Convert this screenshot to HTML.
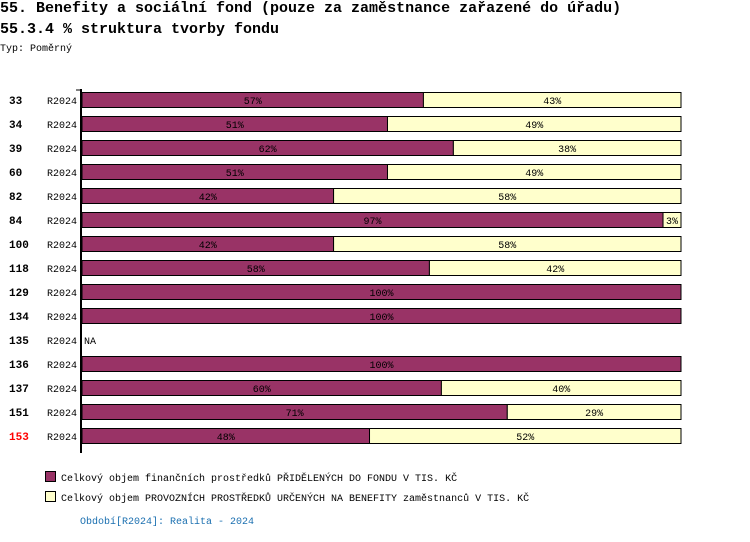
<!DOCTYPE html>
<html><head><meta charset="utf-8"><style>
body{margin:0;width:750px;height:542px;background:#fff;font-family:"Liberation Mono","DejaVu Sans Mono",monospace;position:relative;overflow:hidden}
.t{position:absolute;white-space:nowrap;color:#000}
</style></head><body>
<div class="t" style="left:0;top:0;font-size:15px;font-weight:bold">55. Benefity a sociální fond (pouze za zaměstnance zařazené do úřadu)</div>
<div class="t" style="left:0;top:21px;font-size:15px;font-weight:bold">55.3.4 % struktura tvorby fondu</div>
<div class="t" style="left:0;top:44px;font-size:10px">Typ: Poměrný</div>
<svg id="chart" width="750" height="542" style="position:absolute;left:0;top:0" font-family="Liberation Mono, DejaVu Sans Mono, monospace"></svg>
<script>
const categories=["33","34","39","60","82","84","100","118","129","134","135","136","137","151","153"];
const periods=["R2024","R2024","R2024","R2024","R2024","R2024","R2024","R2024","R2024","R2024","R2024","R2024","R2024","R2024","R2024"];
const allocated=[57,51,62,51,42,97,42,58,100,100,null,100,60,71,48];
const operating=[43,49,38,49,58,3,58,42,0,0,null,0,40,29,52];
const highlighted=["153"];
const NS="http://www.w3.org/2000/svg";
const svg=document.getElementById('chart');
const x0=82,x1=681,y0=100,step=24,bh=15;
const xs=v=>x0+(x1-x0)*v/100;
const ys=i=>y0+i*step;
function mk(t,a){const e=document.createElementNS(NS,t);for(const k in a)e.setAttribute(k,a[k]);svg.appendChild(e);return e;}
categories.forEach((c,i)=>{
  const y=ys(i);
  const lab=mk('text',{x:9,y:y+4,'font-size':11,'font-weight':'bold',fill:highlighted.includes(c)?'#ff0000':'#000'});
  lab.textContent=c;
  
  
  const p=mk('text',{x:47,y:y+4,'font-size':10});
  p.textContent=periods[i];
  
  
  if(allocated[i]==null){
    const na=mk('text',{x:84,y:y+4,'font-size':10});na.textContent='NA';
    
    
    return;
  }
  const a=allocated[i],b=operating[i];
  const r1=mk('rect',{x:x0,y:y-bh/2,width:xs(a)-x0,height:bh,fill:'#993366',stroke:'#000','stroke-width':1});
  
  
  const t1=mk('text',{x:(x0+xs(a))/2,y:y+4,'font-size':10,'text-anchor':'middle'});t1.textContent=a+'%';
  
  
  if(b>0){
    const r2=mk('rect',{x:xs(a),y:y-bh/2,width:xs(a+b)-xs(a),height:bh,fill:'#ffffcc',stroke:'#000','stroke-width':1});
    
    
    const t2=mk('text',{x:(xs(a)+xs(a+b))/2,y:y+4,'font-size':10,'text-anchor':'middle'});t2.textContent=b+'%';
    
    
  }
});
const ax=mk('line',{x1:81,y1:89,x2:81,y2:453,stroke:'#000','stroke-width':2});


const tk=mk('line',{x1:76,y1:90,x2:81,y2:90,stroke:'#000','stroke-width':1});


</script>
<div style="position:absolute;left:45px;top:471px;font-size:10px;white-space:nowrap"><span style="display:inline-block;width:9px;height:9px;background:#993366;border:1px solid #000;vertical-align:-1px;margin-right:5px"></span>Celkový objem finančních prostředků PŘIDĚLENÝCH DO FONDU V TIS. KČ</div>
<div style="position:absolute;left:45px;top:491px;font-size:10px;white-space:nowrap"><span style="display:inline-block;width:9px;height:9px;background:#ffffcc;border:1px solid #000;vertical-align:-1px;margin-right:5px"></span>Celkový objem PROVOZNÍCH PROSTŘEDKŮ URČENÝCH NA BENEFITY zaměstnanců V TIS. KČ</div>
<div class="t" style="left:80px;top:517px;font-size:10px;color:#1a6fb0">Období[R2024]: Realita - 2024</div>
</body></html>
